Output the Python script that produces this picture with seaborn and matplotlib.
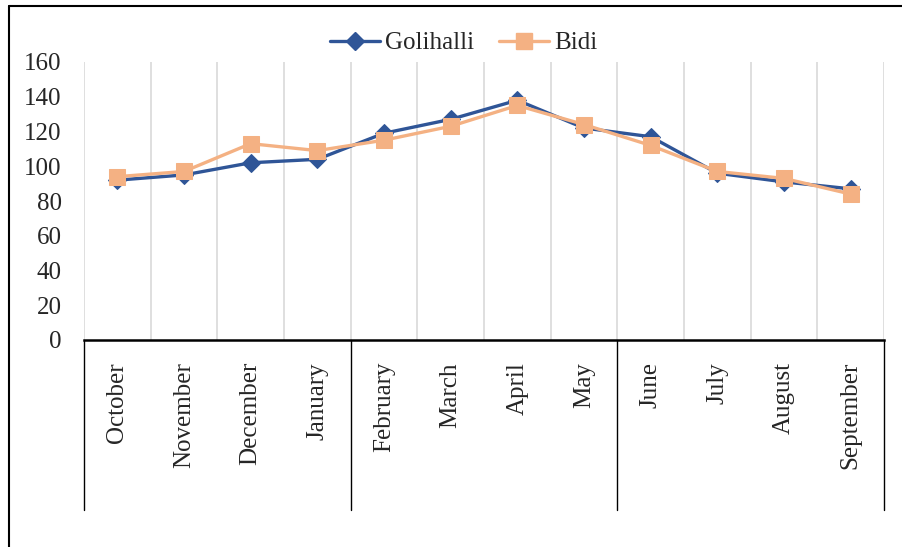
import matplotlib
matplotlib.use("Agg")
import matplotlib.pyplot as plt
import matplotlib.transforms as mtransforms
from matplotlib.lines import Line2D
import seaborn as sns
import pandas as pd

months = ["October", "November", "December", "January", "February", "March",
          "April", "May", "June", "July", "August", "September"]
golihalli = [92, 95, 102, 104, 119, 127, 138, 122, 117, 96, 91, 87]
bidi = [94, 97, 113, 109, 115, 123, 135, 124, 112, 97, 93, 84]
series_names = ["Golihalli", "Bidi"]
yticks = [0, 20, 40, 60, 80, 100, 120, 140, 160]
group_edges = [-0.5, 3.5, 7.5, 11.5]

sns.set_theme(style="white")
plt.rcParams["font.family"] = ["Liberation Serif", "DejaVu Serif"]

df = pd.DataFrame({
    "month": months * 2,
    "pos": list(range(len(months))) * 2,
    "value": golihalli + bidi,
    "site": [series_names[0]] * len(months) + [series_names[1]] * len(months),
})

fig = plt.figure(figsize=(9.02, 5.47), dpi=100)
ax = fig.add_axes([84 / 902, 1 - 340 / 547, 800 / 902, 278 / 547])

palette = {"Golihalli": "#2F5597", "Bidi": "#F4B183"}
markers = {"Golihalli": "D", "Bidi": "s"}
sizes_m = {"Golihalli": 9.5, "Bidi": 11}

for name in series_names:
    sub = df[df["site"] == name]
    sns.lineplot(data=sub, x="pos", y="value", ax=ax, color=palette[name],
                 marker=markers[name], markersize=sizes_m[name],
                 markeredgecolor=palette[name], linewidth=2.4, label=name,
                 legend=False)

ax.set_xlim(-0.5, len(months) - 0.5)
ax.set_ylim(0, 160)
ax.set_yticks(yticks)
ax.set_yticklabels([str(v) for v in yticks], fontsize=18,
                   family="Liberation Serif")
ax.tick_params(axis="y", length=0, pad=16)
ax.set_xticks(range(len(months)))
ax.set_xticklabels([])
ax.tick_params(axis="x", length=0)
ax.set_xticks([i - 0.5 for i in range(len(months) + 1)], minor=True)
ax.grid(False)
ax.xaxis.grid(True, which="minor", color="#D9D9D9", linewidth=1.2)
ax.set_xlabel("")
ax.set_ylabel("")
for s in ["top", "right", "left"]:
    ax.spines[s].set_visible(False)
ax.spines["bottom"].set_color("black")
ax.spines["bottom"].set_linewidth(1.8)

trans = mtransforms.blended_transform_factory(ax.transData, ax.transAxes)
for xe in group_edges:
    ax.plot([xe, xe], [0, -170 / 278], transform=trans, color="black",
            linewidth=1.0, clip_on=False)

for i, m in enumerate(months):
    ax.text(i, -22 / 278, m, transform=trans, rotation=90, ha="center",
            va="top", fontsize=18, family="Liberation Serif")

handles = [Line2D([0], [0], color=palette[n], marker=markers[n],
                  markersize=sizes_m[n], linewidth=2.4) for n in series_names]
fig.legend(handles, series_names, loc="center", ncol=2,
           bbox_to_anchor=(464 / 902, 1 - 43 / 547), frameon=False,
           prop={"family": "Liberation Serif", "size": 18},
           handlelength=2.0, columnspacing=1.0, handletextpad=0.2)

fig.add_artist(Line2D([9 / 902, 9 / 902], [0, 1 - 6 / 547], color="black",
                      linewidth=1.5, transform=fig.transFigure))
fig.add_artist(Line2D([9 / 902, 1], [1 - 6 / 547, 1 - 6 / 547], color="black",
                      linewidth=1.5, transform=fig.transFigure))

fig.savefig("out.png", dpi=100)
